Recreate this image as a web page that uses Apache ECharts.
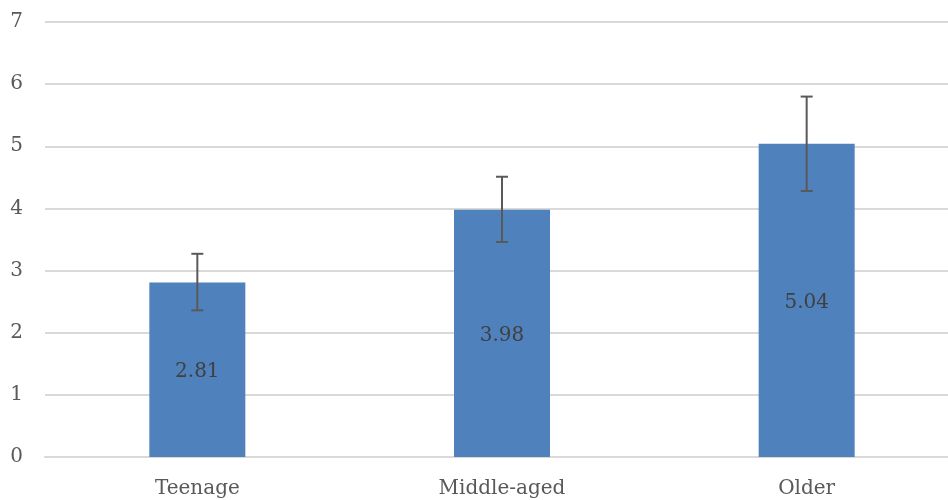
<!DOCTYPE html>
<html>
<head>
<meta charset="utf-8">
<script src="https://cdn.jsdelivr.net/npm/echarts@6/dist/echarts.min.js"></script>
<style>
html,body{margin:0;padding:0;background:#fff;overflow:hidden;width:948px;height:500px;}
#chart{width:959px;height:500px;}
</style>
</head>
<body>
<div id="chart"></div>
<script>
const categories = ['Teenage', 'Middle-aged', 'Older'];
const means = [2.81, 3.98, 5.04];
const upperErr = [3.27, 4.51, 5.80];
const lowerErr = [2.36, 3.46, 4.28];
const yTicks = [0, 1, 2, 3, 4, 5, 6, 7];

const fontFam = '"DejaVu Serif", "Liberation Serif", serif';
const chart = echarts.init(document.getElementById('chart'));
const errData = categories.map((c, i) => [i, lowerErr[i], upperErr[i]]);

chart.setOption({
  animation: false,
  grid: { left: 45, right: 0, top: 22, bottom: 43 },
  xAxis: {
    type: 'category',
    data: categories,
    axisLine: { show: true, lineStyle: { color: '#d9d9d9', width: 2 } },
    axisTick: { show: false },
    axisLabel: { color: '#595959', fontFamily: fontFam, fontSize: 20, margin: 22 }
  },
  yAxis: {
    type: 'value',
    min: yTicks[0],
    max: yTicks[yTicks.length - 1],
    interval: 1,
    axisLine: { show: false },
    axisTick: { show: false },
    splitLine: { lineStyle: { color: '#d9d9d9', width: 2 } },
    axisLabel: { color: '#595959', fontFamily: fontFam, fontSize: 20, margin: 22 }
  },
  series: [
    {
      type: 'bar',
      data: means,
      barWidth: 96,
      itemStyle: { color: '#4f81bd' },
      label: {
        show: true,
        position: 'inside',
        offset: [0, 2],
        color: '#404040',
        fontFamily: fontFam,
        fontSize: 20,
        formatter: p => p.value.toFixed(2)
      }
    },
    {
      type: 'custom',
      data: errData,
      z: 10,
      renderItem: function (params, api) {
        const x = api.value(0);
        const lo = api.coord([x, api.value(1)]);
        const hi = api.coord([x, api.value(2)]);
        const hw = 6;
        const style = { stroke: '#595959', lineWidth: 2 };
        return {
          type: 'group',
          children: [
            { type: 'line', shape: { x1: hi[0], y1: hi[1], x2: lo[0], y2: lo[1] }, style },
            { type: 'line', shape: { x1: hi[0] - hw, y1: hi[1], x2: hi[0] + hw, y2: hi[1] }, style },
            { type: 'line', shape: { x1: lo[0] - hw, y1: lo[1], x2: lo[0] + hw, y2: lo[1] }, style }
          ]
        };
      }
    }
  ]
});
</script>
</body>
</html>
